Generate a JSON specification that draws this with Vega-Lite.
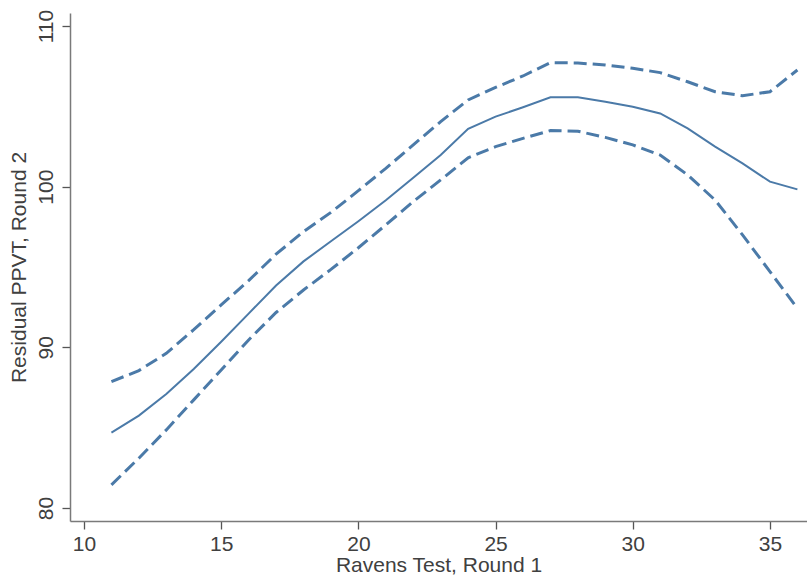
{
  "$schema": "https://vega.github.io/schema/vega-lite/v6.json",
  "width": 737,
  "height": 508,
  "autosize": {"type": "none"},
  "padding": {"left": 70, "top": 13, "right": 0, "bottom": 62},
  "background": "white",
  "config": {
    "view": {"stroke": null},
    "font": "Liberation Sans",
    "axis": {
      "grid": false,
      "domainColor": "#7a7a7a",
      "domainWidth": 1.5,
      "tickColor": "#555555",
      "tickWidth": 1.3,
      "tickSize": 8,
      "labelFont": "Liberation Sans",
      "labelFontSize": 21,
      "labelColor": "#404040",
      "titleFont": "Liberation Sans",
      "titleFontSize": 21,
      "titleFontWeight": "normal",
      "titleColor": "#404040"
    }
  },
  "data": {
    "values": [
      {"x": 11, "fit": 84.69, "hi": 87.87, "lo": 81.44},
      {"x": 12, "fit": 85.75, "hi": 88.55, "lo": 83.1},
      {"x": 13, "fit": 87.1, "hi": 89.63, "lo": 84.86},
      {"x": 14, "fit": 88.65, "hi": 91.1, "lo": 86.73},
      {"x": 15, "fit": 90.35, "hi": 92.64, "lo": 88.59},
      {"x": 16, "fit": 92.1, "hi": 94.15, "lo": 90.46},
      {"x": 17, "fit": 93.85, "hi": 95.8, "lo": 92.17},
      {"x": 18, "fit": 95.35, "hi": 97.2, "lo": 93.57},
      {"x": 19, "fit": 96.6, "hi": 98.4, "lo": 94.85},
      {"x": 20, "fit": 97.85, "hi": 99.75, "lo": 96.2},
      {"x": 21, "fit": 99.15, "hi": 101.14, "lo": 97.62},
      {"x": 22, "fit": 100.55, "hi": 102.6, "lo": 99.07},
      {"x": 23, "fit": 101.97, "hi": 104.05, "lo": 100.42},
      {"x": 24, "fit": 103.6, "hi": 105.4, "lo": 101.8},
      {"x": 25, "fit": 104.36, "hi": 106.18, "lo": 102.49},
      {"x": 26, "fit": 104.94, "hi": 106.89, "lo": 103.01},
      {"x": 27, "fit": 105.56, "hi": 107.72, "lo": 103.49},
      {"x": 28, "fit": 105.56, "hi": 107.7, "lo": 103.45},
      {"x": 29, "fit": 105.29, "hi": 107.57, "lo": 103.07},
      {"x": 30, "fit": 104.98, "hi": 107.37, "lo": 102.6},
      {"x": 31, "fit": 104.56, "hi": 107.1, "lo": 101.97},
      {"x": 32, "fit": 103.63, "hi": 106.53, "lo": 100.73},
      {"x": 33, "fit": 102.49, "hi": 105.91, "lo": 99.17},
      {"x": 34, "fit": 101.45, "hi": 105.66, "lo": 97.0},
      {"x": 35, "fit": 100.31, "hi": 105.91, "lo": 94.71},
      {"x": 36, "fit": 99.83, "hi": 107.26, "lo": 92.43}
    ]
  },
  "encoding": {
    "x": {
      "field": "x",
      "type": "quantitative",
      "scale": {"domain": [9.49, 36.35], "nice": false, "zero": false},
      "axis": {
        "values": [10, 15, 20, 25, 30, 35],
        "title": "Ravens Test, Round 1",
        "labelPadding": 4,
        "titlePadding": 0
      }
    }
  },
  "layer": [
    {
      "mark": {"type": "line", "color": "#4b7aa8", "strokeWidth": 3, "strokeDash": [13, 6], "clip": true},
      "encoding": {
        "y": {
          "field": "hi",
          "type": "quantitative",
          "scale": {"domain": [79.19, 110.81], "nice": false, "zero": false},
          "axis": {
            "values": [80, 90, 100, 110],
            "title": "Residual PPVT, Round 2",
            "labelAngle": -90,
            "labelAlign": "center",
            "labelBaseline": "alphabetic",
            "labelPadding": 10,
            "titlePadding": 6
          }
        }
      }
    },
    {
      "mark": {"type": "line", "color": "#4b7aa8", "strokeWidth": 3, "strokeDash": [13, 6], "clip": true},
      "encoding": {"y": {"field": "lo", "type": "quantitative"}}
    },
    {
      "mark": {"type": "line", "color": "#4b7aa8", "strokeWidth": 2, "clip": true},
      "encoding": {"y": {"field": "fit", "type": "quantitative"}}
    }
  ]
}
